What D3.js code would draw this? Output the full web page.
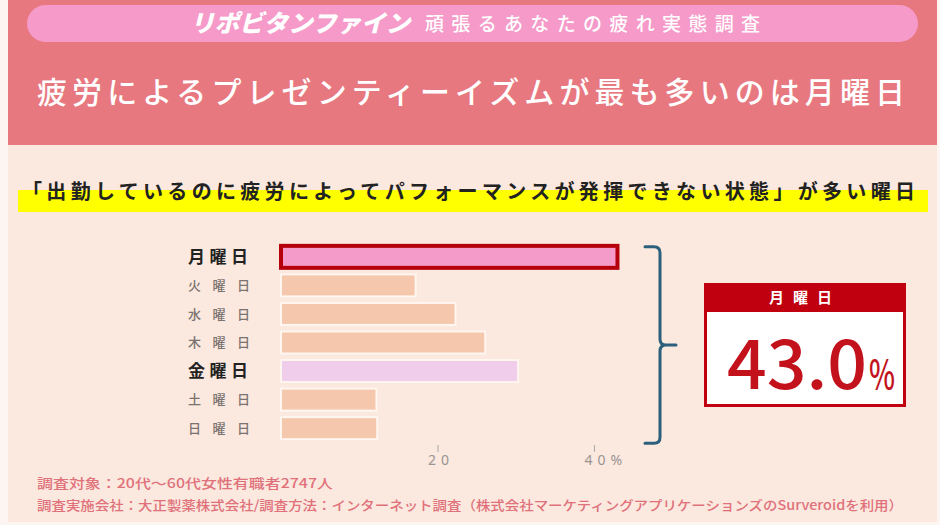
<!DOCTYPE html>
<html><head><meta charset="utf-8">
<script src="https://cdn.jsdelivr.net/npm/d3@7"></script>
<style>
html,body{margin:0;padding:0;background:#fdf5f1;}
svg{display:block;font-family:"Noto Sans CJK JP","Noto Sans",sans-serif;}
</style></head>
<body>
<svg id="c" width="940" height="525"></svg>
<script>
// ---- data ----
const days = ["月曜日","火曜日","水曜日","木曜日","金曜日","土曜日","日曜日"];
const values = [43.0, 17.2, 22.3, 26.1, 30.3, 12.2, 12.3];
const tickValues = [20, 40];
const tickLabels = ["20", "40%"];
const highlightDay = "月曜日";
const secondDay = "金曜日";
const brandText = "リポビタンファイン";
const surveyText = "頑張るあなたの疲れ実態調査";
const titleText = "疲労によるプレゼンティーイズムが最も多いのは月曜日";
const subtitleText = "「出勤しているのに疲労によってパフォーマンスが発揮できない状態」が多い曜日";
const noteLines = [
  "調査対象：20代～60代女性有職者2747人",
  "調査実施会社：大正製薬株式会社/調査方法：インターネット調査（株式会社マーケティングアプリケーションズのSurveroidを利用）"
];

const svg = d3.select("#c");

// background panels
svg.append("rect").attr("x",8).attr("y",0).attr("width",929).attr("height",522).attr("fill","#fbe8df");
svg.append("rect").attr("x",8).attr("y",0).attr("width",929).attr("height",145).attr("fill","#e8787f");
svg.append("rect").attr("x",27).attr("y",5).attr("width",891).attr("height",37).attr("rx",18.5).attr("fill","#f59ac9");

// pill texts
svg.append("text").attr("x",190).attr("y",32).attr("fill","#fff")
  .attr("font-size",24).attr("font-weight",900).attr("font-style","italic")
  .attr("textLength",220).attr("lengthAdjust","spacingAndGlyphs").text(brandText);
svg.append("text").attr("x",425).attr("y",31).attr("fill","#fff")
  .attr("font-size",19).attr("font-weight",500)
  .attr("textLength",335).attr("lengthAdjust","spacing").text(surveyText);

// title
svg.append("text").attr("x",37).attr("y",103).attr("fill","#fff")
  .attr("font-size",30).attr("font-weight",500)
  .attr("textLength",868).attr("lengthAdjust","spacing").text(titleText);

// subtitle with yellow highlight
svg.append("rect").attr("x",18).attr("y",190).attr("width",910).attr("height",22).attr("fill","#ffff00");
svg.append("text").attr("x",22).attr("y",199).attr("fill","#222")
  .attr("font-size",20).attr("font-weight",700)
  .attr("textLength",893).attr("lengthAdjust","spacing").text(subtitleText);

// scales
const x = d3.scaleLinear().domain([0,40]).range([281,594]);
const y = d3.scaleBand().domain(days).range([243,442]).paddingInner(0.23).paddingOuter(0.1);

// bars
const g = svg.append("g");
g.selectAll("rect.bar").data(days).join("rect").attr("class","bar")
  .attr("x", x(0))
  .attr("y", d => y(d))
  .attr("width", (d,i) => x(values[i]) - x(0))
  .attr("height", y.bandwidth())
  .attr("fill", d => d===highlightDay ? "#f59bc9" : d===secondDay ? "#f0cdea" : "#f5c8ad")
  .attr("stroke", d => d===highlightDay ? "#b5000c" : "#fff6f0")
  .attr("stroke-width", d => d===highlightDay ? 4 : 2);

// category labels
g.selectAll("text.cat").data(days).join("text").attr("class","cat")
  .attr("x",188)
  .attr("y", d => y(d) + y.bandwidth()/2)
  .attr("dy","0.36em")
  .attr("font-size", d => (d===highlightDay||d===secondDay) ? 17 : 13)
  .attr("font-weight", d => (d===highlightDay||d===secondDay) ? 700 : 500)
  .attr("fill", d => (d===highlightDay||d===secondDay) ? "#222" : "#7a7370")
  .attr("textLength", d => (d===highlightDay||d===secondDay) ? 60 : 62)
  .attr("lengthAdjust","spacing")
  .text(d => d);

// axis
const axis = d3.axisBottom(x).tickValues(tickValues).tickSize(7)
  .tickFormat((d,i) => tickLabels[i]);
const ax = svg.append("g").attr("transform","translate(0,445)").call(axis);
ax.select(".domain").remove();
ax.selectAll(".tick line").attr("stroke","#aaa").attr("stroke-width",1);
ax.selectAll(".tick text").attr("fill","#9a9592").attr("font-size",14)
  .attr("font-family","'Noto Sans','Noto Sans CJK JP',sans-serif")
  .attr("letter-spacing","5px").attr("y",10)
  .attr("text-anchor","start")
  .attr("x",-10);

// bracket
const [b0,b1] = [y(days[0])+1, y(days[days.length-1])+y.bandwidth()+4];
const bm = (b0+b1)/2;
svg.append("path")
  .attr("d",`M645,${b0} L654,${b0} Q660,${b0} 660,${b0+6} L660,${bm-6} Q660,${bm} 666,${bm} L676,${bm} M666,${bm} Q660,${bm} 660,${bm+6} L660,${b1-6} Q660,${b1} 654,${b1} L645,${b1}`)
  .attr("fill","none").attr("stroke","#2b5f7c").attr("stroke-width",3).attr("stroke-linecap","round");

// callout box
const cb = svg.append("g");
cb.append("rect").attr("x",705.5).attr("y",284.5).attr("width",199).attr("height",121)
  .attr("fill","#fff").attr("stroke","#c0000e").attr("stroke-width",3);
cb.append("rect").attr("x",704).attr("y",283).attr("width",202).attr("height",29).attr("fill","#c0000e");
cb.append("text").attr("x",805).attr("y",298).attr("dy","0.36em").attr("text-anchor","middle")
  .attr("fill","#fff").attr("font-size",15).attr("font-weight",700)
  .attr("letter-spacing","9px").text(highlightDay);
const big = cb.append("text").attr("x",727).attr("y",389).attr("fill","#c3121c").attr("font-weight",500);
big.append("tspan").attr("font-size",66).attr("textLength",140).attr("lengthAdjust","spacingAndGlyphs")
  .text(d3.format(".1f")(values[days.indexOf(highlightDay)]));
big.append("tspan").attr("font-size",40).attr("x",869).attr("textLength",26).attr("lengthAdjust","spacingAndGlyphs").text("%");

// notes
svg.selectAll("text.note").data(noteLines).join("text").attr("class","note")
  .attr("x",37).attr("y",(d,i)=>483+i*22).attr("dy","0.36em")
  .attr("fill","#e0717a").attr("font-size",13).attr("font-weight",500)
  .attr("textLength",(d,i)=> i===0 ? 296 : 866).attr("lengthAdjust","spacingAndGlyphs")
  .text(d=>d);
</script>
</body></html>
